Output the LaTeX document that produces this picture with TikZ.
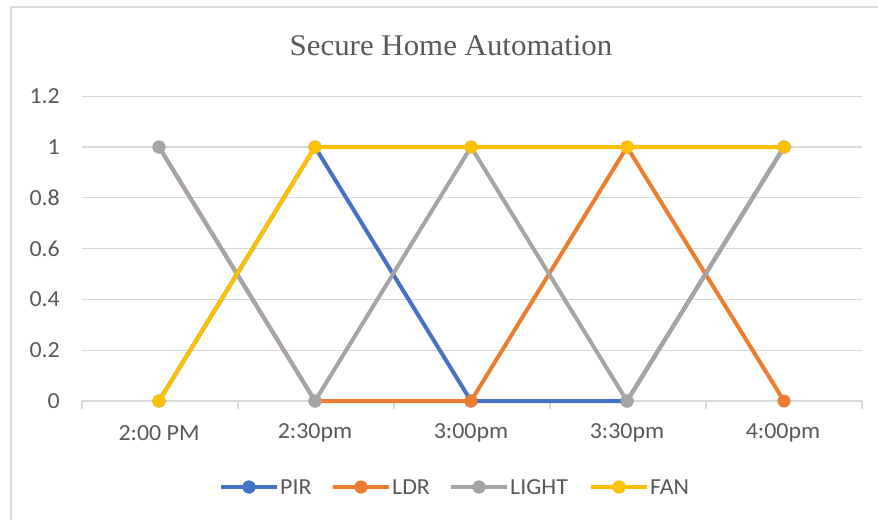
\documentclass[tikz,border=0pt]{standalone}
\usepackage{fontspec}
\usepackage{graphicx}
\setmainfont{Carlito}
\newfontfamily\titlefont{Liberation Serif}
\definecolor{pircol}{HTML}{4472C4}
\definecolor{ldrcol}{HTML}{ED7D31}
\definecolor{lightcol}{HTML}{A5A5A5}
\definecolor{fancol}{HTML}{FFC000}
\definecolor{txtcol}{HTML}{595959}
\definecolor{gridcol}{HTML}{D9D9D9}
\newcommand\widetxt[1]{\scalebox{1.04}[1]{#1}}
\tikzset{
  gridline/.style={draw=gridcol, line width=1.3pt},
  serline/.style={line width=4pt, line join=round, line cap=round},
  marker/.style={circle, inner sep=0pt, minimum size=13pt},
  lab/.style={text=txtcol, font=\fontsize{23}{27}\selectfont, inner sep=0pt},
}
\begin{document}
\begin{tikzpicture}[x=1pt,y=-1pt]
\useasboundingbox (0,0) rectangle (878,520);
\fill[white] (0,0) rectangle (878,520);
% chart border
\draw[gridcol, line width=1.5pt] (11,520) -- (11,7) -- (878,7);
% title
\node[text=txtcol, inner sep=0pt, font=\titlefont\fontsize{30}{34}\selectfont] (title) at (451,46) {\scalebox{1.03}[1]{Secure Home Automation}};
% gridlines and y labels
\foreach \v/\t [count=\k] in {0/0, 0.2/0.2, 0.4/0.4, 0.6/0.6, 0.8/0.8, 1/1, 1.2/1.2} {
  \coordinate (gl\k) at (82,{401-254*\v});
  \coordinate (gr\k) at (862,{401-254*\v});
  \draw[gridline] (gl\k) -- (gr\k);
  \node[lab, anchor=east] (ylab\k) at (60,{401-254*\v}) {\widetxt{\t}};
}
% ticks
\foreach \k in {0,...,5} {
  \coordinate (tt\k) at ({82+156*\k},401);
  \coordinate (tb\k) at ({82+156*\k},409);
  \draw[gridline] (tt\k) -- (tb\k);
}
% x labels
\foreach \t [count=\i] in {2:00 PM, 2:30pm, 3:00pm, 3:30pm, 4:00pm} {
  \node[lab] (xlab\i) at ({159+156*(\i-1)},433) {\widetxt{\t}};
}
% series
\foreach \name/\col/\a/\b/\c/\d/\e in {
  pir/pircol/0/1/0/0/1,
  ldr/ldrcol/1/0/0/1/0,
  lgt/lightcol/1/0/1/0/1,
  fan/fancol/0/1/1/1/1} {
  \node[marker] (\name1) at (159,{401-254*\a}) {};
  \node[marker] (\name2) at (315,{401-254*\b}) {};
  \node[marker] (\name3) at (471,{401-254*\c}) {};
  \node[marker] (\name4) at (627,{401-254*\d}) {};
  \node[marker] (\name5) at (784,{401-254*\e}) {};
  \draw[serline, draw=\col] (\name1.center) -- (\name2.center) -- (\name3.center) -- (\name4.center) -- (\name5.center);
  \foreach \j in {1,...,5} { \fill[\col] (\name\j) circle (6.5pt); }
}
% legend
\foreach \name/\col/\xa/\txt in {PIR/pircol/221/PIR, LDR/ldrcol/333/LDR, LIGHT/lightcol/451/LIGHT, FAN/fancol/591/FAN} {
  \coordinate (leg\name a) at (\xa,487);
  \coordinate (leg\name b) at (\xa+56,487);
  \node[marker, fill=\col] (legm\name) at (\xa+28,487) {};
  \draw[serline, draw=\col, line cap=butt] (leg\name a) -- (leg\name b);
  \fill[\col] (legm\name) circle (6.5pt);
  \node[lab, anchor=west] (legt\name) at (\xa+59,487) {\widetxt{\txt}};
}
\end{tikzpicture}
\end{document}
